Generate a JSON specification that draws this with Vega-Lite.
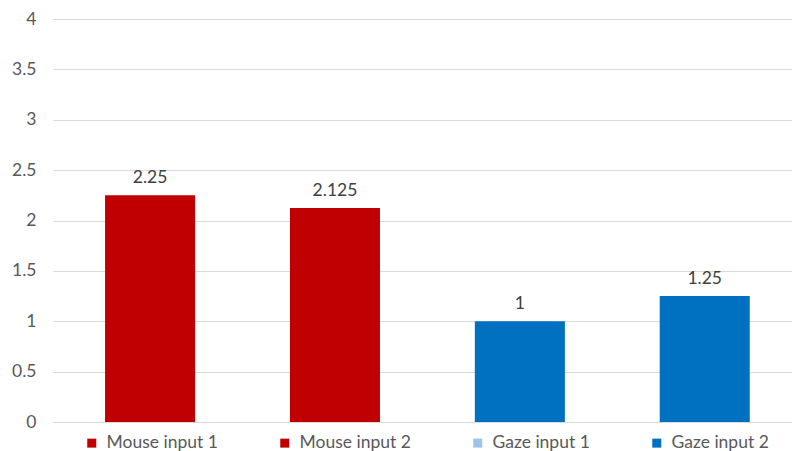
{
  "$schema": "https://vega.github.io/schema/vega-lite/v6.json",
  "autosize": {"type": "none"},
  "padding": {"left": 53, "top": 19, "right": 0, "bottom": 29},
  "width": 739,
  "height": 403,
  "background": "white",
  "config": {
    "view": {"stroke": null},
    "font": "Lato",
    "axis": {"labelFont": "Lato", "labelFontSize": 17.5, "labelColor": "#595959"},
    "legend": {"labelFont": "Lato", "labelFontSize": 17.5, "labelColor": "#595959"}
  },
  "data": {
    "values": [
      {"series": "Mouse input 1", "device": "Mouse", "score": 2.25},
      {"series": "Mouse input 2", "device": "Mouse", "score": 2.125},
      {"series": "Gaze input 1", "device": "Gaze", "score": 1},
      {"series": "Gaze input 2", "device": "Gaze", "score": 1.25}
    ]
  },
  "encoding": {
    "x": {
      "field": "series",
      "type": "nominal",
      "sort": null,
      "scale": {"paddingInner": 0.513, "paddingOuter": 0.255, "align": 0.552},
      "axis": {
        "title": null,
        "labels": false,
        "ticks": false,
        "domain": true,
        "domainColor": "#D9D9D9",
        "domainWidth": 1
      }
    },
    "y": {
      "field": "score",
      "type": "quantitative",
      "scale": {"domain": [0, 4], "nice": false},
      "axis": {
        "title": null,
        "values": [0, 0.5, 1, 1.5, 2, 2.5, 3, 3.5, 4],
        "format": "~g",
        "domain": false,
        "ticks": false,
        "grid": true,
        "gridColor": "#D9D9D9",
        "gridWidth": 1,
        "labelPadding": 17
      }
    }
  },
  "layer": [
    {
      "mark": {"type": "bar"},
      "encoding": {
        "fill": {
          "field": "device",
          "type": "nominal",
          "scale": {"domain": ["Mouse", "Gaze"], "range": ["#C00000", "#0070C0"]},
          "legend": null
        }
      }
    },
    {
      "mark": {
        "type": "text",
        "align": "center",
        "baseline": "alphabetic",
        "dy": -12,
        "fontSize": 17.5,
        "color": "#404040"
      },
      "encoding": {
        "text": {"field": "score", "type": "quantitative", "format": "~g"}
      }
    },
    {
      "mark": {"type": "square", "opacity": 0, "filled": true},
      "encoding": {
        "color": {
          "field": "series",
          "type": "nominal",
          "scale": {
            "domain": ["Mouse input 1", "Mouse input 2", "Gaze input 1", "Gaze input 2"],
            "range": ["#C00000", "#C00000", "#9DC3E6", "#0070C0"]
          },
          "legend": {
            "title": null,
            "orient": "none",
            "legendX": 30,
            "legendY": 415,
            "direction": "horizontal",
            "symbolType": "square",
            "symbolSize": 81,
            "symbolOpacity": 1,
            "symbolStrokeWidth": 0,
            "labelOffset": 6,
            "columnPadding": 58
          }
        }
      }
    }
  ]
}
